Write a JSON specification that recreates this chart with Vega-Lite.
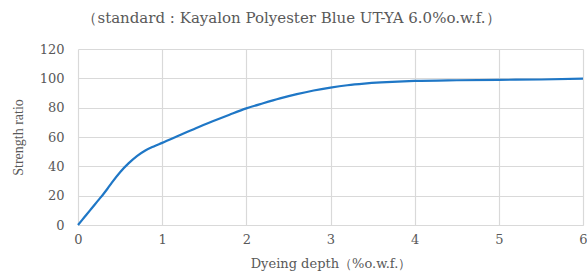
{
  "$schema": "https://vega.github.io/schema/vega-lite/v6.json",
  "autosize": {"type": "none"},
  "width": 505,
  "height": 176,
  "padding": {"left": 78, "top": 49, "right": 4, "bottom": 47},
  "background": "white",
  "title": {
    "text": "（standard : Kayalon Polyester Blue UT-YA 6.0%o.w.f.）",
    "font": "DejaVu Serif",
    "fontSize": 15,
    "fontWeight": "normal",
    "color": "#595959",
    "anchor": "middle",
    "frame": "group",
    "dx": -39,
    "offset": 17
  },
  "config": {"view": {"stroke": null}},
  "data": {
    "values": [
      {"x": 0, "y": 0},
      {"x": 0.05, "y": 3.5},
      {"x": 0.1, "y": 7},
      {"x": 0.15, "y": 10.5},
      {"x": 0.2, "y": 14},
      {"x": 0.25, "y": 17.5},
      {"x": 0.3, "y": 21},
      {"x": 0.35, "y": 24.7},
      {"x": 0.4, "y": 28.7},
      {"x": 0.5, "y": 36},
      {"x": 0.6, "y": 42},
      {"x": 0.7, "y": 47},
      {"x": 0.8, "y": 50.8},
      {"x": 0.9, "y": 53.6},
      {"x": 1.0, "y": 56},
      {"x": 1.2, "y": 61},
      {"x": 1.4, "y": 66},
      {"x": 1.6, "y": 70.7},
      {"x": 1.8, "y": 75.2},
      {"x": 2.0, "y": 79.5},
      {"x": 2.2, "y": 83},
      {"x": 2.4, "y": 86.3},
      {"x": 2.6, "y": 89.2},
      {"x": 2.8, "y": 91.7},
      {"x": 3.0, "y": 93.7},
      {"x": 3.2, "y": 95.3},
      {"x": 3.4, "y": 96.4},
      {"x": 3.6, "y": 97.2},
      {"x": 3.8, "y": 97.8},
      {"x": 4.0, "y": 98.2},
      {"x": 4.5, "y": 98.7},
      {"x": 5.0, "y": 99},
      {"x": 5.5, "y": 99.2},
      {"x": 6.0, "y": 99.8}
    ]
  },
  "mark": {"type": "line", "interpolate": "monotone", "color": "#1f77c6", "strokeWidth": 2.2},
  "encoding": {
    "x": {
      "field": "x",
      "type": "quantitative",
      "scale": {"domain": [0, 6], "nice": false},
      "axis": {
        "values": [0, 1, 2, 3, 4, 5, 6],
        "title": "Dyeing depth（%o.w.f.）",
        "titleFont": "DejaVu Serif",
        "titleFontSize": 13,
        "titleFontWeight": "normal",
        "titleColor": "#595959",
        "titlePadding": 11,
        "labelFont": "DejaVu Serif",
        "labelFontSize": 13,
        "labelColor": "#595959",
        "labelPadding": 8,
        "ticks": false,
        "domainColor": "#d9d9d9",
        "gridColor": "#d9d9d9",
        "gridWidth": 1.2,
        "labelFlush": false
      }
    },
    "y": {
      "field": "y",
      "type": "quantitative",
      "scale": {"domain": [0, 120], "nice": false},
      "axis": {
        "values": [0, 20, 40, 60, 80, 100, 120],
        "title": "Strength ratio",
        "titleFont": "Liberation Serif",
        "titleFontSize": 14,
        "titleFontWeight": "normal",
        "titleColor": "#595959",
        "titlePadding": 14,
        "labelFont": "DejaVu Serif",
        "labelFontSize": 13,
        "labelColor": "#595959",
        "labelPadding": 14,
        "ticks": false,
        "domain": false,
        "gridColor": "#d9d9d9",
        "gridWidth": 1.2
      }
    }
  }
}
